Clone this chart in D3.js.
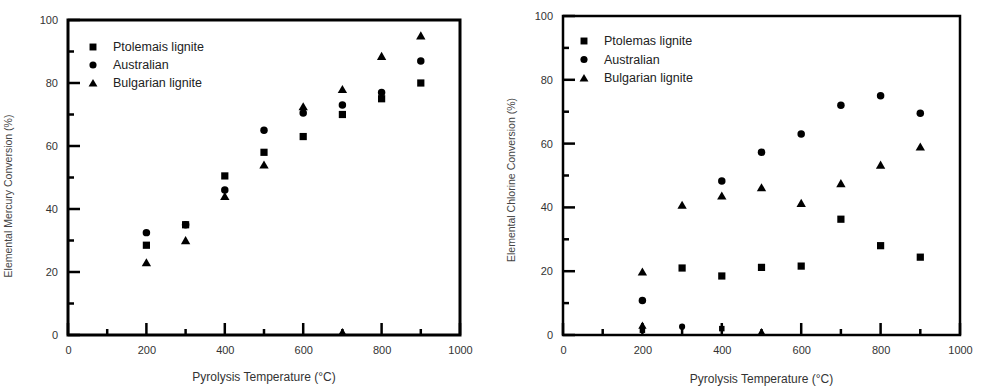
<!DOCTYPE html>
<html>
<head>
<meta charset="utf-8">
<script src="https://cdn.jsdelivr.net/npm/d3@7"></script>
<style>
  body { margin: 0; background: #fff; }
</style>
</head>
<body>
<svg id="chart" width="981" height="391"></svg>
<script>
// data: [temperature, conversion %]
var namesLeft = ["Ptolemais lignite", "Australian", "Bulgarian lignite"];
var namesRight = ["Ptolemas lignite", "Australian", "Bulgarian lignite"];
var symbols = [d3.symbolSquare, d3.symbolCircle, d3.symbolTriangle];

var mercuryPtolemais = [[200, 28.5], [300, 35], [400, 50.5], [500, 58], [600, 63], [700, 70], [800, 75], [900, 80]];
var mercuryAustralian = [[200, 32.5], [300, 35], [400, 46], [500, 65], [600, 70.5], [700, 73], [800, 77], [900, 87]];
var mercuryBulgarian = [[200, 23], [300, 30], [400, 44], [500, 54], [600, 72.5], [700, 78], [800, 88.5], [900, 95], [700, 1]];

var chlorinePtolemais = [[200, 1.5], [300, 21], [400, 18.5], [500, 21.2], [600, 21.6], [700, 36.3], [800, 28], [900, 24.4], [400, 2]];
var chlorineAustralian = [[200, 10.8], [300, 2.6], [400, 48.3], [500, 57.3], [600, 63], [700, 72], [800, 75], [900, 69.5]];
var chlorineBulgarian = [[200, 19.8], [300, 40.7], [400, 43.6], [500, 46.2], [600, 41.3], [700, 47.5], [800, 53.3], [900, 59], [200, 3], [500, 1]];

var xTicks = [0, 200, 400, 600, 800, 1000];
var xMinor = [100, 300, 500, 700, 900];
var yTicks = [0, 20, 40, 60, 80, 100];
var yMinor = [10, 30, 50, 70, 90];

var svg = d3.select("#chart");
var sizes = [52, 44, 38];
var font = "Liberation Sans, Arial, sans-serif";

function drawPanel(p) {
  var x = d3.scaleLinear().domain([0, 1000]).range([p.left, p.right]);
  var y = d3.scaleLinear().domain([0, 100]).range([p.bottom, p.top]);
  var g = svg.append("g");

  // plot frame
  g.append("rect")
    .attr("x", x(0)).attr("y", y(100))
    .attr("width", x(1000) - x(0)).attr("height", y(0) - y(100))
    .attr("fill", "none").attr("stroke", "#000").attr("stroke-width", p.frame);

  // tick labels
  g.append("g")
    .attr("transform", "translate(0," + p.bottom + ")")
    .call(d3.axisBottom(x).tickValues(xTicks).tickSize(0).tickPadding(11).tickFormat(d3.format("d")))
    .call(function(a) {
      a.select(".domain").remove();
      a.selectAll("text").attr("font-family", font).attr("font-size", 11).attr("fill", "#333");
    });
  g.append("g")
    .attr("transform", "translate(" + p.left + ",0)")
    .call(d3.axisLeft(y).tickValues(yTicks).tickSize(0).tickPadding(10))
    .call(function(a) {
      a.select(".domain").remove();
      a.selectAll("text").attr("font-family", font).attr("font-size", 11).attr("fill", "#333");
    });

  // inward tick marks
  var tk = g.append("g").attr("stroke", "#000").attr("stroke-width", 2.5);
  tk.selectAll(null).data(xTicks.concat(xMinor)).enter().append("line")
    .attr("x1", function(d) { return x(d); }).attr("x2", function(d) { return x(d); })
    .attr("y1", p.bottom).attr("y2", function(d) { return p.bottom - (d % 200 ? 6 : 12); });
  tk.selectAll(null).data(yTicks.concat(yMinor)).enter().append("line")
    .attr("y1", function(d) { return y(d); }).attr("y2", function(d) { return y(d); })
    .attr("x1", p.left).attr("x2", function(d) { return p.left + (d % 20 ? 6 : 12); });

  // points
  p.series.forEach(function(s, i) {
    g.selectAll(null)
      .data(s)
      .enter().append("path")
        .attr("transform", function(d) {
          return "translate(" + x(d[0]) + "," + (y(d[1]) + (i === 2 ? 1 : 0)) + ")";
        })
        .attr("d", function(d) {
          return d3.symbol().type(symbols[i]).size(d[1] < 4 ? 30 : sizes[i])();
        })
        .attr("fill", "#000");
  });

  // legend
  var leg = g.append("g").attr("transform", "translate(" + p.legX + "," + p.legY + ")");
  p.names.forEach(function(n, i) {
    leg.append("path")
      .attr("transform", "translate(0," + (i * p.legStep + (i === 2 ? 1 : 0)) + ")")
      .attr("d", d3.symbol().type(symbols[i]).size(sizes[i] - 4))
      .attr("fill", "#000");
    leg.append("text")
      .attr("x", 20).attr("y", i * p.legStep)
      .attr("dy", "0.35em")
      .attr("font-family", font)
      .attr("font-size", 12.5)
      .attr("fill", "#222")
      .text(n);
  });

  // axis titles
  g.append("text")
    .attr("x", (p.left + p.right) / 2).attr("y", p.xTitleY)
    .attr("text-anchor", "middle")
    .attr("font-family", font)
    .attr("font-size", 12)
    .attr("fill", "#333")
    .text("Pyrolysis Temperature (\u00B0C)");
  g.append("text")
    .attr("transform", "translate(" + p.yTitleX + "," + p.yTitleC + ") rotate(-90)")
    .attr("text-anchor", "middle")
    .attr("font-family", font)
    .attr("font-size", 10.5)
    .attr("fill", "#444")
    .text(p.yTitle);
}

drawPanel({
  left: 68, right: 460, top: 20, bottom: 335, frame: 3,
  series: [mercuryPtolemais, mercuryAustralian, mercuryBulgarian],
  names: namesLeft,
  legX: 93, legY: 47, legStep: 18,
  xTitleY: 381, yTitleX: 12, yTitleC: 196,
  yTitle: "Elemental Mercury Conversion (%)"
});

drawPanel({
  left: 563, right: 960, top: 16, bottom: 335, frame: 2.5,
  series: [chlorinePtolemais, chlorineAustralian, chlorineBulgarian],
  names: namesRight,
  legX: 584, legY: 41, legStep: 18.5,
  xTitleY: 383, yTitleX: 515, yTitleC: 180,
  yTitle: "Elemental Chlorine Conversion (%)"
});
</script>
</body>
</html>
